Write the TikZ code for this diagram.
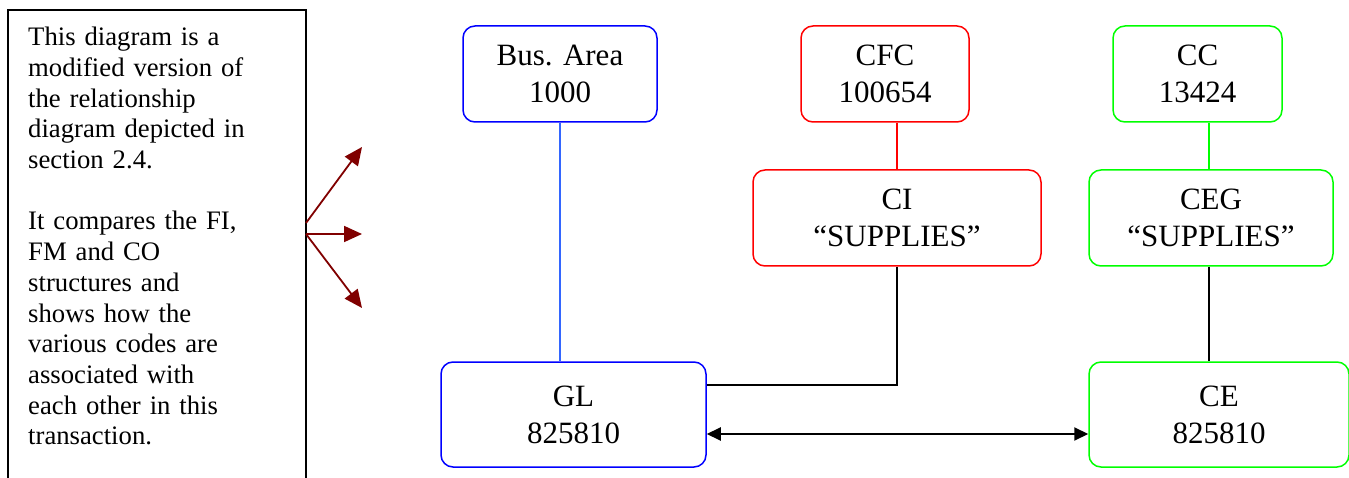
\documentclass[tikz,border=0pt]{standalone}
\usepackage{fontspec}
\setmainfont{Liberation Serif}
\usetikzlibrary{arrows.meta}
\definecolor{cblue}{RGB}{0,0,255}
\definecolor{cred}{RGB}{255,0,0}
\definecolor{cgreen}{RGB}{0,255,0}
\definecolor{clblue}{RGB}{51,102,255}
\definecolor{cdred}{RGB}{128,0,0}
\tikzset{
  box/.style={draw, line width=1.5pt, rounded corners=12pt, align=center, inner sep=0pt,
    font=\fontsize{31}{37}\selectfont},
  bluebox/.style={box, draw=cblue},
  redbox/.style={box, draw=cred},
  greenbox/.style={box, draw=cgreen},
  note/.style={anchor=north west, inner sep=0pt, text width=275pt, align=left,
    font=\fontsize{26.7}{30.7}\selectfont},
  redarrow/.style={draw=cdred, fill=cdred, line width=1.8pt, -{Triangle[length=18pt,width=16pt]}},
  link/.style={line width=2pt},
}
\begin{document}
\begin{tikzpicture}[x=1pt,y=-1pt]
\useasboundingbox (0,0) rectangle (1349,478);
\clip (0,0) rectangle (1349,478);
% note box (cut off at bottom)
\draw[line width=1.5pt] (8,490) -- (8,10) -- (306,10) -- (306,490);
\node[note] (txt) at (28,27) {This diagram is a\\modified version of\\the relationship\\diagram depicted in\\section 2.4.\\[30.7pt]It compares the FI,\\FM and CO\\structures and\\shows how the\\various codes are\\associated with\\each other in this\\transaction.};
\coordinate (s1) at (306,223);
\coordinate (s2) at (306,234);
\coordinate (e1) at (362,147);
\coordinate (e2) at (362,234);
\coordinate (e3) at (362,308);
\draw[redarrow] (s1) -- (e1);
\draw[redarrow] (s2) -- (e2);
\draw[redarrow] (s2) -- (e3);
% nodes
\node[bluebox, minimum width=194pt, minimum height=96pt] (ba) at (560,74) {Bus. Area\\1000};
\node[redbox, minimum width=168pt, minimum height=96pt] (cfc) at (885,74) {CFC\\100654};
\node[greenbox, minimum width=169pt, minimum height=96pt] (cc) at (1197.5,74) {CC\\13424};
\node[redbox, minimum width=288pt, minimum height=96pt] (ci) at (897,218) {CI\\“SUPPLIES”};
\node[greenbox, minimum width=244pt, minimum height=96pt] (ceg) at (1211,218) {CEG\\“SUPPLIES”};
\node[bluebox, minimum width=265pt, minimum height=105pt] (gl) at (573.5,414.5) {GL\\825810};
\node[greenbox, minimum width=260pt, minimum height=105pt] (ce) at (1219,414.5) {CE\\825810};
% connectors
\draw[clblue, line width=1.2pt] (ba.south) -- (gl.north -| ba.south);
\draw[cred, line width=2pt] (cfc.south -| ci.south) -- (ci.north);
\draw[cgreen, line width=2pt] (cc.south -| 1209,0) -- (ceg.north -| 1209,0);
\draw[link] (ci.south) |- ([yshift=29.5pt]gl.east);
\draw[line width=1.3pt] (ceg.south -| 1209,0) -- (ce.north -| 1209,0);
\draw[link, {Triangle[length=14pt,width=13pt]}-{Triangle[length=14pt,width=13pt]}] ([yshift=-19.5pt]gl.east) -- ([yshift=-19.5pt]ce.west);
\end{tikzpicture}
\end{document}
